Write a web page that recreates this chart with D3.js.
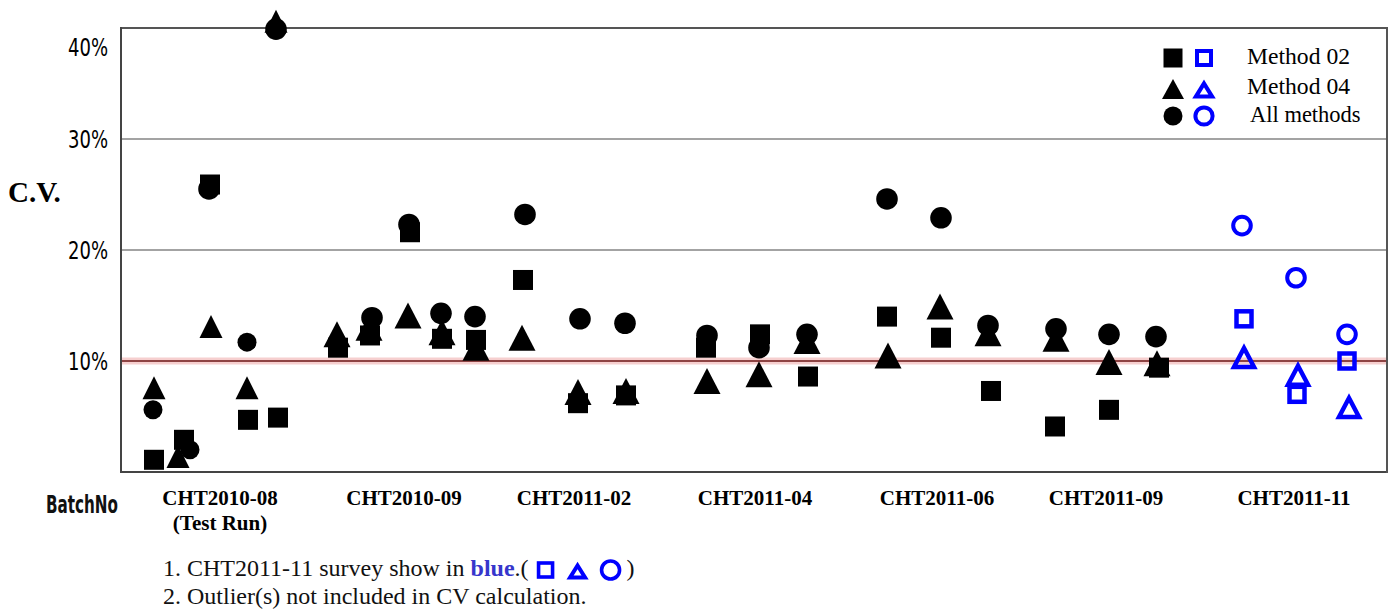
<!DOCTYPE html>
<html>
<head>
<meta charset="utf-8">
<script src="https://cdn.jsdelivr.net/npm/d3@7/dist/d3.min.js"></script>
<style>
  html, body { margin: 0; padding: 0; background: #fff; }
  svg { display: block; }
</style>
</head>
<body>
<svg id="chart" width="1395" height="613"></svg>
<script>
// ---------------- DATA ----------------
const batches = ["CHT2010-08", "CHT2010-09", "CHT2011-02", "CHT2011-04", "CHT2011-06", "CHT2011-09", "CHT2011-11"];
const batchNotes = ["(Test Run)", "", "", "", "", "", ""];
// label centre, in lab-slot units along the x axis
const batchLabelPos = [1.98, 5.66, 9.06, 12.68, 16.32, 19.70, 23.46];
const highlightBatch = "CHT2011-11";
const yTicks = [10, 20, 30, 40];
const yTickLabels = ["10%", "20%", "30%", "40%"];
const referenceCV = 10;

// [batch index, lab slot, CV %]
const method02 = [
  [0, 0.66, 1.1], [0, 1.26, 2.9], [0, 1.78, 25.9], [0, 2.54, 4.7], [0, 3.14, 4.9],
  [1, 4.34, 11.2], [1, 4.98, 12.3], [1, 5.78, 21.6], [1, 6.42, 12.0], [1, 7.10, 11.9],
  [2, 8.04, 17.3], [2, 9.14, 6.2], [2, 10.10, 6.9],
  [3, 11.70, 11.2], [3, 12.78, 12.4], [3, 13.74, 8.6],
  [4, 15.32, 14.0], [4, 16.40, 12.1], [4, 17.40, 7.3],
  [5, 18.68, 4.1], [5, 19.76, 5.6], [5, 20.76, 9.4],
  [6, 22.46, 13.8], [6, 23.52, 7.0], [6, 24.52, 10.0]
];
const method04 = [
  [0, 0.66, 7.6], [0, 1.14, 1.4], [0, 1.80, 13.1], [0, 2.52, 7.6], [0, 3.10, 40.6],
  [1, 4.32, 12.4], [1, 4.96, 13.0], [1, 5.74, 14.1], [1, 6.42, 12.6], [1, 7.10, 11.2],
  [2, 8.02, 12.1], [2, 9.14, 7.2], [2, 10.10, 7.3],
  [3, 11.72, 8.2], [3, 12.76, 8.8], [3, 13.72, 11.8],
  [4, 15.34, 10.5], [4, 16.38, 14.9], [4, 17.34, 12.5],
  [5, 18.70, 12.0], [5, 19.76, 9.9], [5, 20.72, 9.8],
  [6, 22.46, 10.4], [6, 23.54, 8.8], [6, 24.56, 5.9]
];
const allMethods = [
  [0, 0.64, 5.6], [0, 1.38, 2.0], [0, 1.76, 25.5], [0, 2.52, 11.7], [0, 3.10, 39.9],
  [1, 5.02, 13.9], [1, 5.76, 22.3], [1, 6.40, 14.3], [1, 7.08, 14.0],
  [2, 8.08, 23.2], [2, 9.18, 13.8], [2, 10.08, 13.4],
  [3, 11.72, 12.3], [3, 12.76, 11.2], [3, 13.72, 12.4],
  [4, 15.32, 24.6], [4, 16.40, 22.9], [4, 17.34, 13.2],
  [5, 18.70, 12.9], [5, 19.76, 12.4], [5, 20.70, 12.2],
  [6, 22.42, 22.2], [6, 23.50, 17.5], [6, 24.52, 12.4]
];
const legendItems = ["Method 02", "Method 04", "All methods"];
const footnote1 = ["1. CHT2011-11 survey show in ", "blue", ".("];
const footnote2 = "2. Outlier(s) not included in CV calculation.";

// ---------------- LAYOUT ----------------
const svg = d3.select("#chart");
const plot = { left: 121, right: 1387, top: 28, bottom: 472 };
const x = d3.scaleLinear().domain([0, 25.32]).range([plot.left, plot.right]);
const y = d3.scaleLinear().domain([0, 40]).range([plot.bottom, plot.top]);
const BLUE = "#0000ff";
const SERIF = "'Liberation Serif', 'Times New Roman', serif";
const PIXEL = "'DejaVu Sans Condensed', 'DejaVu Sans', sans-serif";

// grid lines
const grid = svg.append("g");
grid.selectAll("line.g").data(yTicks.filter(v => v !== referenceCV && v !== 40)).join("line")
  .attr("x1", plot.left).attr("x2", plot.right)
  .attr("y1", d => y(d)).attr("y2", d => y(d))
  .attr("stroke", "#a3a3a3").attr("stroke-width", 2);
// reference 10% line (glow + core)
grid.append("line").attr("x1", plot.left).attr("x2", plot.right)
  .attr("y1", y(referenceCV)).attr("y2", y(referenceCV))
  .attr("stroke", "#f6cfcf").attr("stroke-width", 7);
grid.append("line").attr("x1", plot.left).attr("x2", plot.right)
  .attr("y1", y(referenceCV)).attr("y2", y(referenceCV))
  .attr("stroke", "#8e4444").attr("stroke-width", 2);

// frame
const frame = svg.append("g").attr("fill", "none");
frame.append("line").attr("x1", plot.left).attr("x2", plot.right).attr("y1", plot.top).attr("y2", plot.top)
  .attr("stroke", "#555").attr("stroke-width", 2);
frame.append("line").attr("x1", plot.left).attr("x2", plot.right).attr("y1", plot.bottom).attr("y2", plot.bottom)
  .attr("stroke", "#444").attr("stroke-width", 2);
frame.append("line").attr("x1", plot.left).attr("x2", plot.left).attr("y1", plot.top - 1).attr("y2", plot.bottom + 1)
  .attr("stroke", "#444").attr("stroke-width", 2);
frame.append("line").attr("x1", plot.right).attr("x2", plot.right).attr("y1", plot.top - 1).attr("y2", plot.bottom + 1)
  .attr("stroke", "#555").attr("stroke-width", 2);

// y tick labels
const labelY = v => Math.max(y(v), y(40) + 19);
svg.append("g").selectAll("text").data(yTicks).join("text")
  .attr("x", 108).attr("y", d => labelY(d) + 9)
  .attr("text-anchor", "end")
  .attr("font-family", PIXEL).attr("font-size", 24)
  .attr("textLength", 40).attr("lengthAdjust", "spacingAndGlyphs")
  .attr("fill", "#000")
  .text((d, i) => yTickLabels[i]);

// axis titles
svg.append("text").attr("x", 8).attr("y", 202)
  .attr("font-family", SERIF).attr("font-weight", "bold").attr("font-size", 29)
  .attr("fill", "#000").text("C.V.");
svg.append("text").attr("x", 46).attr("y", 513)
  .attr("font-family", PIXEL).attr("font-weight", "bold").attr("font-size", 24)
  .attr("textLength", 72).attr("lengthAdjust", "spacingAndGlyphs")
  .attr("fill", "#111").text("BatchNo");

// batch labels
const bl = svg.append("g").attr("font-family", SERIF).attr("font-weight", "bold")
  .attr("font-size", 21).attr("text-anchor", "middle").attr("fill", "#000");
bl.selectAll("text.b").data(batches).join("text").attr("class", "b")
  .attr("x", (d, i) => x(batchLabelPos[i])).attr("y", 505).text(d => d);
bl.selectAll("text.n").data(batchNotes).join("text").attr("class", "n")
  .attr("x", (d, i) => x(batchLabelPos[i])).attr("y", 530).text(d => d);

// ---------------- MARKERS ----------------
const triPath = (w, h) => `M0,${-h / 2}L${w / 2},${h / 2}L${-w / 2},${h / 2}Z`;
function drawSquare(g, cx, cy, hollow, big) {
  if (hollow) {
    const s = big ? 15 : 14;
    g.append("rect").attr("x", cx - s / 2).attr("y", cy - s / 2).attr("width", s).attr("height", s)
      .attr("fill", "none").attr("stroke", BLUE).attr("stroke-width", big ? 4.5 : 4);
  } else {
    const s = big ? 20 : 19;
    g.append("rect").attr("x", cx - s / 2).attr("y", cy - s / 2).attr("width", s).attr("height", s)
      .attr("fill", "#000");
  }
}
function drawTriangle(g, cx, cy, hollow, w, h) {
  if (hollow) {
    g.append("path").attr("d", triPath(w - 7, h - 7)).attr("transform", `translate(${cx},${cy + 1})`)
      .attr("fill", "none").attr("stroke", BLUE).attr("stroke-width", 4.5).attr("stroke-linejoin", "miter");
  } else {
    g.append("path").attr("d", triPath(w, h)).attr("transform", `translate(${cx},${cy})`).attr("fill", "#000");
  }
}
function drawCircle(g, cx, cy, hollow, r) {
  if (hollow) {
    g.append("circle").attr("cx", cx).attr("cy", cy).attr("r", r - 2)
      .attr("fill", "none").attr("stroke", BLUE).attr("stroke-width", 4);
  } else {
    g.append("circle").attr("cx", cx).attr("cy", cy).attr("r", r).attr("fill", "#000");
  }
}
const isHi = b => batches[b] === highlightBatch;
const marks = svg.append("g");
method02.forEach(([b, s, v]) => drawSquare(marks, x(s), y(v), isHi(b), true));
method04.forEach(([b, s, v]) => {
  const small = b === 0;
  drawTriangle(marks, x(s), y(v), isHi(b), small ? 23 : 27, small ? 23 : 26);
});
allMethods.forEach(([b, s, v]) => {
  const r = (b === 0 && v < 20) ? 9.5 : 10.8;
  drawCircle(marks, x(s), y(v), isHi(b), r);
});

// ---------------- LEGEND ----------------
const lg = svg.append("g");
const legY = [58, 89, 116];
drawSquare(lg, 1173, legY[0], false, false);
drawSquare(lg, 1204, legY[0], true, false);
drawTriangle(lg, 1173, legY[1], false, 22, 20);
lg.append("path").attr("d", triPath(16, 13)).attr("transform", `translate(1204,${legY[1] + 1})`)
  .attr("fill", "none").attr("stroke", BLUE).attr("stroke-width", 4.2);
drawCircle(lg, 1173, legY[2], false, 9.5);
drawCircle(lg, 1204, legY[2], true, 10.6);
const legTextX = [1247, 1247, 1250];
const legTextY = [64, 94, 122];
lg.selectAll("text").data(legendItems).join("text")
  .attr("x", (d, i) => legTextX[i]).attr("y", (d, i) => legTextY[i])
  .attr("font-family", SERIF).attr("font-size", 22.5).attr("fill", "#000")
  .each(function (d, i) { if (i < 2) d3.select(this).attr("textLength", 103).attr("lengthAdjust", "spacingAndGlyphs"); })
  .text(d => d);

// ---------------- FOOTNOTES ----------------
const fn = svg.append("g").attr("font-family", SERIF).attr("font-size", 24).attr("fill", "#111");
const t1 = fn.append("text").attr("x", 163).attr("y", 576);
t1.append("tspan").text(footnote1[0]);
t1.append("tspan").attr("font-weight", "bold").attr("fill", "#3636cc").text(footnote1[1]);
t1.append("tspan").text(footnote1[2]);
const endX = 163 + t1.node().getComputedTextLength();
const fy = 570;
fn.append("rect").attr("x", endX + 17 - 7).attr("y", fy - 7).attr("width", 14).attr("height", 14)
  .attr("fill", "none").attr("stroke", BLUE).attr("stroke-width", 3.6);
fn.append("path").attr("d", triPath(15, 12)).attr("transform", `translate(${endX + 49},${fy + 1.5})`)
  .attr("fill", "none").attr("stroke", BLUE).attr("stroke-width", 4);
fn.append("circle").attr("cx", endX + 82).attr("cy", fy).attr("r", 9)
  .attr("fill", "none").attr("stroke", BLUE).attr("stroke-width", 3.6);
fn.append("text").attr("x", endX + 98).attr("y", 576).text(")");
fn.append("text").attr("x", 163).attr("y", 604).text(footnote2);
</script>
</body>
</html>
